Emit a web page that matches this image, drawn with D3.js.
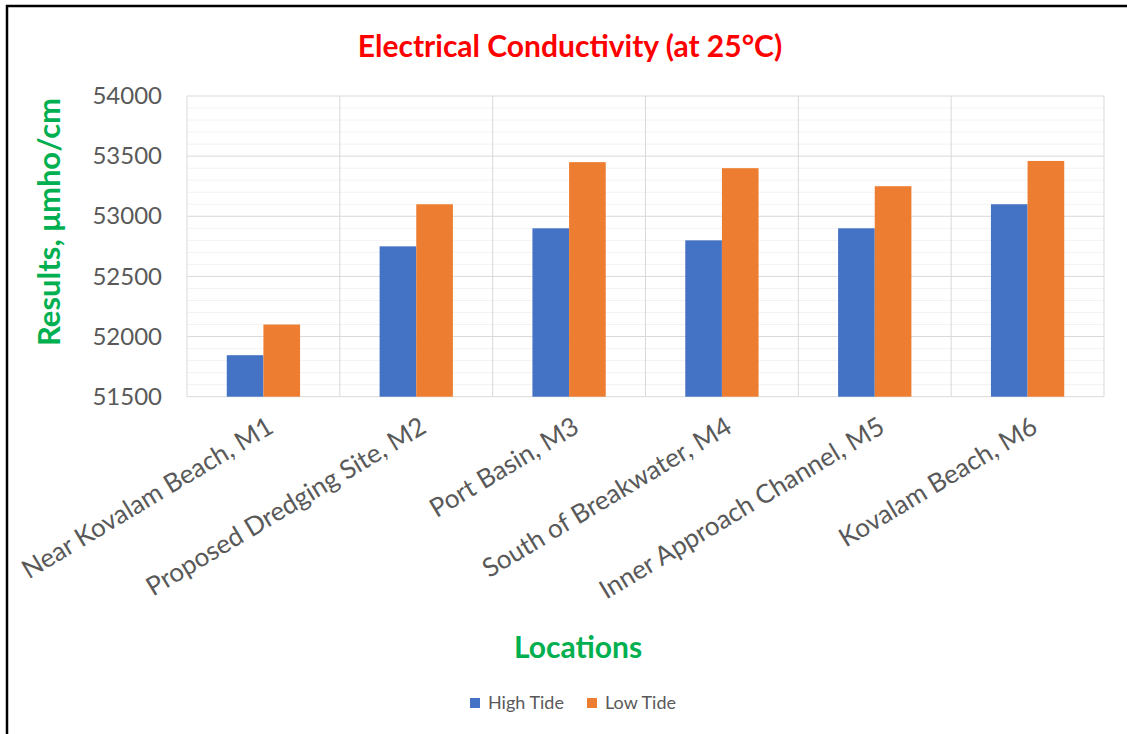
<!DOCTYPE html>
<html>
<head>
<meta charset="utf-8">
<script src="https://cdn.jsdelivr.net/npm/d3@7"></script>
<style>
	body { margin: 0; background: #fff; }
	svg text { font-family: Lato, "Open Sans", sans-serif; }
</style>
</head>
<body>
<div id="chart"></div>
<script>

const categories = ["Near Kovalam Beach, M1", "Proposed Dredging Site, M2", "Port Basin, M3",
	"South of Breakwater, M4", "Inner Approach Channel, M5", "Kovalam Beach, M6"];
const series = ["High Tide", "Low Tide"];
const highTide = [51845, 52750, 52900, 52800, 52900, 53100];
const lowTide = [52100, 53100, 53450, 53400, 53250, 53460];
const yTicks = [51500, 52000, 52500, 53000, 53500, 54000];
const colors = ["#4472C4", "#ED7D31"];

const width = 1127, height = 734;
const plot = { left: 187, right: 1104, top: 96, bottom: 396.7 };

const svg = d3.select('#chart').append('svg')
	.attr('width', width)
	.attr('height', height);

// outer frame (only left + top edges show in the picture)
svg.append('rect')
	.attr('x', 7).attr('y', 6)
	.attr('width', width + 20).attr('height', height + 20)
	.attr('fill', 'none')
	.attr('stroke', '#000')
	.attr('stroke-width', 2.5);

const x0 = d3.scaleBand()
	.domain(categories)
	.range([plot.left, plot.right]);

const x1 = d3.scaleBand()
	.domain(series)
	.range([0, x0.bandwidth()])
	.paddingOuter(1.085);

const y = d3.scaleLinear()
	.domain([51500, 54000])
	.range([plot.bottom, plot.top]);

// minor gridlines every 100
const grid = svg.append('g');
grid.selectAll('line.minor')
	.data(d3.range(51600, 54000, 100).filter(v => v % 500 !== 0))
	.enter().append('line')
	.attr('class', 'minor')
	.attr('x1', plot.left).attr('x2', plot.right)
	.attr('y1', d => y(d)).attr('y2', d => y(d))
	.attr('stroke', '#F2F2F2')
	.attr('stroke-width', 1);

// major gridlines
grid.selectAll('line.major')
	.data(yTicks)
	.enter().append('line')
	.attr('class', 'major')
	.attr('x1', plot.left).attr('x2', plot.right)
	.attr('y1', d => y(d)).attr('y2', d => y(d))
	.attr('stroke', '#D9D9D9')
	.attr('stroke-width', 1);

// vertical category gridlines
const edges = categories.map(c => x0(c)).concat([plot.right]);
grid.selectAll('line.vert')
	.data(edges)
	.enter().append('line')
	.attr('class', 'vert')
	.attr('x1', d => d).attr('x2', d => d)
	.attr('y1', plot.top).attr('y2', plot.bottom)
	.attr('stroke', '#D9D9D9')
	.attr('stroke-width', 1);

// bars
const rows = categories.map((c, i) => ({ cat: c, values: [highTide[i], lowTide[i]] }));
const groups = svg.append('g').selectAll('g')
	.data(rows)
	.enter().append('g')
	.attr('transform', d => `translate(${x0(d.cat)},0)`);

groups.selectAll('rect')
	.data(d => d.values.map((v, j) => ({ s: series[j], v: v, j: j })))
	.enter().append('rect')
	.attr('x', d => x1(d.s))
	.attr('width', x1.bandwidth())
	.attr('y', d => y(d.v))
	.attr('height', d => plot.bottom - y(d.v))
	.attr('fill', d => colors[d.j]);

// y axis labels
const yAxis = d3.axisLeft(y)
	.tickValues(yTicks)
	.tickFormat(d3.format('d'))
	.tickSize(0)
	.tickPadding(25);

const yg = svg.append('g')
	.attr('transform', `translate(${plot.left},0)`)
	.call(yAxis);
yg.select('.domain').remove();
yg.selectAll('text')
	.attr('fill', '#595959')
	.style('font-size', '24px')
	.style('font-family', 'Lato');

// x axis labels (rotated)
svg.append('g').selectAll('text')
	.data(categories)
	.enter().append('text')
	.attr('transform', d => `translate(${x0(d) + x0.bandwidth() / 2 + 7},${plot.bottom + 27}) rotate(-31)`)
	.attr('text-anchor', 'end')
	.attr('dy', '0.35em')
	.attr('fill', '#595959')
	.style('font-size', '26px')
	.text(d => d);

// title
svg.append('text')
	.attr('x', 570).attr('y', 57)
	.attr('text-anchor', 'middle')
	.attr('fill', '#FF0000')
	.style('font-size', '30px')
	.style('font-weight', 'bold')
	.text('Electrical Conductivity (at 25°C)');

// axis titles
svg.append('text')
	.attr('transform', 'translate(60,222) rotate(-90)')
	.attr('text-anchor', 'middle')
	.attr('fill', '#00B050')
	.style('font-size', '31px')
	.style('font-weight', 'bold')
	.text('Results, μmho/cm');

svg.append('text')
	.attr('x', 578).attr('y', 658)
	.attr('text-anchor', 'middle')
	.attr('fill', '#00B050')
	.style('font-size', '30px')
	.style('font-weight', 'bold')
	.text('Locations');

// legend
const legend = svg.append('g').attr('transform', 'translate(470,698)');
const items = legend.selectAll('g')
	.data(series)
	.enter().append('g')
	.attr('transform', (d, i) => `translate(${i * 117},0)`);
items.append('rect')
	.attr('width', 10).attr('height', 10)
	.attr('fill', (d, i) => colors[i]);
items.append('text')
	.attr('x', 18).attr('y', 5)
	.attr('dy', '0.35em')
	.attr('fill', '#595959')
	.style('font-size', '18px')
	.text(d => d);

</script>
</body>
</html>
